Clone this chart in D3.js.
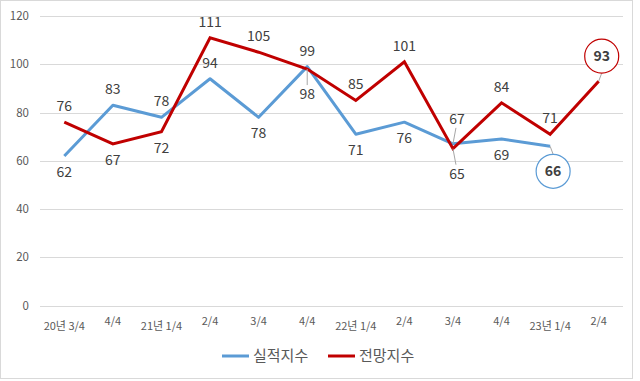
<!DOCTYPE html>
<html>
<head>
<meta charset="utf-8">
<script src="https://cdn.jsdelivr.net/npm/d3@7"></script>
<style>
  body { margin: 0; background: #fff; }
  svg { display: block; font-family: "Noto Sans CJK KR", "Noto Sans", sans-serif; }
</style>
</head>
<body>
<svg id="chart" width="640" height="381"></svg>
<script>
// quarters on the x axis
const quarters = ["20년 3/4", "4/4", "21년 1/4", "2/4", "3/4", "4/4", "22년 1/4", "2/4", "3/4", "4/4", "23년 1/4", "2/4"];
const quarterKeys = quarters.map((q, i) => i); // duplicate labels, so index keys

// 실적지수 (actual) - no value for the last quarter
const actual = [62, 83, 78, 94, 78, 99, 71, 76, 67, 69, 66];
// 전망지수 (outlook)
const outlook = [76, 67, 72, 111, 105, 98, 85, 101, 65, 84, 71, 93];

const yTicks = [0, 20, 40, 60, 80, 100, 120];
const seriesNames = ["실적지수", "전망지수"];

// label placement (style, not data): -1 above, +1 below
const actualSide = [1, -1, -1, -1, 1, -1, 1, 1, -1, 1, 1];
const outlookSide = [-1, 1, 1, -1, -1, 1, -1, -1, 1, -1, -1, -1];

const colors = {actual: "#5B9BD5", outlook: "#C00000"};

const svg = d3.select("#chart");

// light frame round the picture
svg.append("rect")
    .attr("x", 0.5).attr("y", 0.5)
    .attr("width", 632).attr("height", 378)
    .attr("fill", "#fff")
    .attr("stroke", "#d9d9d9");

const x = d3.scalePoint()
    .domain(quarterKeys)
    .range([40, 623])
    .padding(0.5);

const y = d3.scaleLinear()
    .domain([0, 120])
    .range([305.5, 16]);

// gridlines + y labels
svg.append("g").selectAll("line")
    .data(yTicks)
    .enter()
    .append("line")
    .attr("x1", 40).attr("x2", 623)
    .attr("y1", d => Math.round(y(d)) + 0.5)
    .attr("y2", d => Math.round(y(d)) + 0.5)
    .attr("stroke", "#d9d9d9");

svg.append("g").selectAll("text")
    .data(yTicks)
    .enter()
    .append("text")
    .attr("x", 29)
    .attr("y", d => y(d))
    .attr("dy", "0.35em")
    .attr("text-anchor", "end")
    .attr("font-size", 11.5)
    .attr("fill", "#595959")
    .text(d => d);

// x labels
svg.append("g").selectAll("text")
    .data(quarterKeys)
    .enter()
    .append("text")
    .attr("x", d => x(d))
    .attr("y", d => quarters[d].includes("년") ? 326 : 321.5)
    .attr("dy", "0.35em")
    .attr("text-anchor", "middle")
    .attr("font-size", 11)
    .attr("fill", "#595959")
    .text(d => quarters[d]);

// lines
const line = d3.line()
    .x((d, i) => x(i))
    .y(d => y(d));

svg.append("path")
    .datum(actual)
    .attr("d", line)
    .attr("fill", "none")
    .attr("stroke", colors.actual)
    .attr("stroke-width", 3)
    .attr("stroke-linejoin", "round");

svg.append("path")
    .datum(outlook)
    .attr("d", line)
    .attr("fill", "none")
    .attr("stroke", colors.outlook)
    .attr("stroke-width", 3)
    .attr("stroke-linejoin", "miter");

// data labels
function drawLabels(values, side, color) {
    let g = svg.append("g");
    let last = values.length - 1;
    values.forEach(function (v, i) {
        let px = x(i), py = y(v);
        if (i === last) {
            // circled final label with a leader line
            let cy = py + side[i] * 25;
            g.append("line")
                .attr("x1", px).attr("y1", py)
                .attr("x2", px + 3).attr("y2", cy - side[i] * 17)
                .attr("stroke", "#a6a6a6");
            g.append("circle")
                .attr("cx", px + 3).attr("cy", cy)
                .attr("r", 17)
                .attr("fill", "#fff")
                .attr("stroke", color)
                .attr("stroke-width", 1.2);
            g.append("text")
                .attr("x", px + 3).attr("y", cy)
                .attr("dy", "0.35em")
                .attr("text-anchor", "middle")
                .attr("font-size", 14)
                .attr("font-weight", "bold")
                .attr("fill", "#404040")
                .text(v);
            return;
        }
        let ty = py + side[i] * 16;
        // crowded points get a short leader line
        if (i === 5 && side[i] > 0 || i === 8) {
            ty = py + side[i] * 25;
            g.append("line")
                .attr("x1", px).attr("y1", py)
                .attr("x2", px + (i === 8 ? 3 : 0)).attr("y2", ty - side[i] * 9)
                .attr("stroke", "#a6a6a6");
        }
        g.append("text")
            .attr("x", px + (i === 8 ? 4 : 0))
            .attr("y", ty)
            .attr("dy", "0.35em")
            .attr("text-anchor", "middle")
            .attr("font-size", 14)
            .attr("fill", "#404040")
            .text(v);
    });
}

drawLabels(actual, actualSide, colors.actual);
drawLabels(outlook, outlookSide, colors.outlook);

// legend
const legend = svg.append("g");
const legendX = [222, 328];
seriesNames.forEach(function (name, i) {
    let c = i === 0 ? colors.actual : colors.outlook;
    legend.append("line")
        .attr("x1", legendX[i]).attr("x2", legendX[i] + 27)
        .attr("y1", 356).attr("y2", 356)
        .attr("stroke", c)
        .attr("stroke-width", 3);
    legend.append("text")
        .attr("x", legendX[i] + 31)
        .attr("y", 356)
        .attr("dy", "0.35em")
        .attr("font-size", 15)
        .attr("fill", "#595959")
        .text(name);
});
</script>
</body>
</html>
